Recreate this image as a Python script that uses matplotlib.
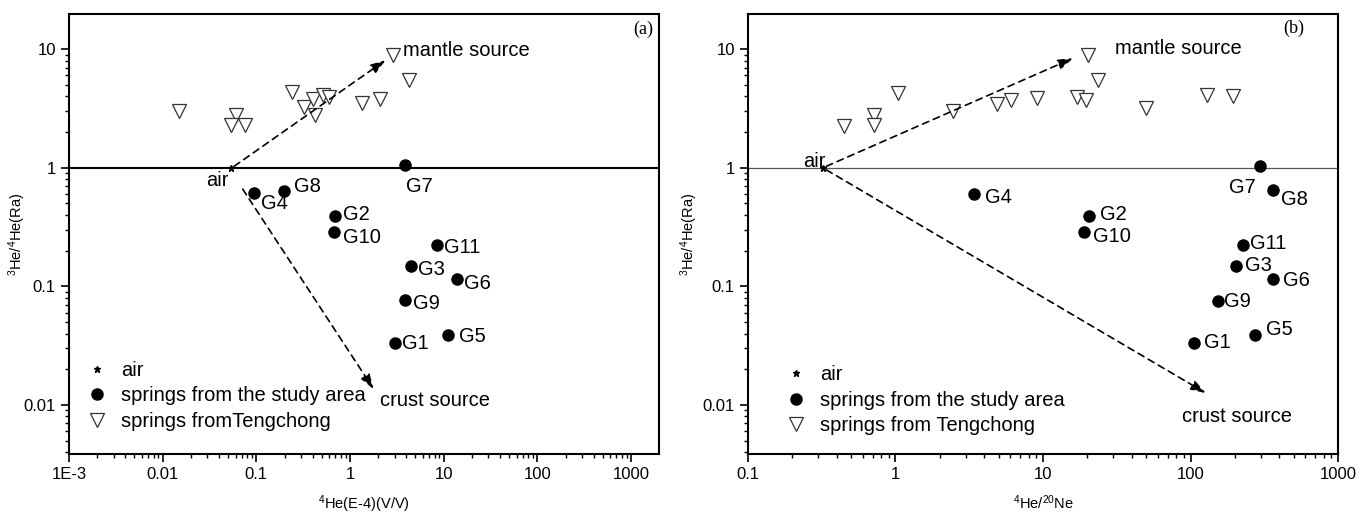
import numpy as np
import matplotlib
matplotlib.use('agg')
import matplotlib.pyplot as plt
from matplotlib.ticker import FixedLocator, FixedFormatter, LogLocator, NullFormatter

plt.rcParams['font.family'] = ['Liberation Sans', 'DejaVu Sans']
plt.rcParams['mathtext.fontset'] = 'custom'
plt.rcParams['mathtext.rm'] = 'Liberation Sans'
plt.rcParams['mathtext.default'] = 'regular'

######## panel (a): 4He vs 3He/4He
tc_x_a = [0.015, 0.060, 0.054, 0.076, 0.24, 0.32, 0.40, 0.42, 0.52, 0.59, 1.34, 2.08, 2.86, 4.3]
tc_y_a = [3.03, 2.8, 2.31, 2.28, 4.36, 3.24, 3.83, 2.8, 4.08, 3.97, 3.49, 3.80, 8.97, 5.52]

g_names = ['G1', 'G2', 'G3', 'G4', 'G5', 'G6', 'G7', 'G8', 'G9', 'G10', 'G11']
g_x_a = [3.0, 0.70, 4.52, 0.094, 11.1, 13.8, 3.84, 0.196, 3.91, 0.68, 8.4]
g_y_a = [0.0332, 0.395, 0.149, 0.61, 0.039, 0.115, 1.05, 0.638, 0.077, 0.286, 0.224]
g_off_a = [(21, 0), (21, 1), (20, -4), (21, -10), (24, -2), (21, -4), (15, -21),
           (24, 4), (21, -4), (28, -5), (26, -3)]
air_a = (0.053, 1.0)

######## panel (b): 4He/20Ne vs 3He/4He
tc_x_b = [0.446, 0.713, 0.713, 1.04, 2.46, 4.89, 6.07, 9.06, 17.0, 19.6, 20.2, 23.6, 50.1, 130, 195]
tc_y_b = [2.27, 2.79, 2.30, 4.27, 3.03, 3.45, 3.75, 3.85, 3.95, 3.75, 8.97, 5.52, 3.19, 4.08, 4.0]

g_x_b = [106, 20.5, 203, 3.42, 274, 361, 297, 361, 154, 19.0, 228]
g_y_b = [0.0332, 0.395, 0.149, 0.60, 0.039, 0.115, 1.03, 0.65, 0.076, 0.286, 0.224]
g_off_b = [(23, 1), (24, 1), (23, 0), (24, -3), (24, 5), (24, -1), (-18, -21),
           (22, -10), (19, -1), (28, -4), (25, 1)]
air_b = (0.32, 1.0)

fig = plt.figure(figsize=(13.7, 5.16), dpi=100)
ax1 = fig.add_axes([69/1370, 62/516, 590/1370, 440/516])
ax2 = fig.add_axes([748/1370, 62/516, 590/1370, 440/516])

tri = dict(marker='v', ms=9.5, mfc='white', mec='#333333', mew=0.9, ls='none')
dot = dict(marker='o', ms=8, color='black', ls='none')
star = dict(marker='*', ms=4.5, color='black', ls='none')


def arrow(ax, start, end):
    ax.annotate('', xy=end, xytext=start,
                arrowprops=dict(arrowstyle='-|>,head_length=0.9,head_width=0.3',
                                linestyle=(0, (4, 3)), lw=1.2, color='black',
                                shrinkA=0, shrinkB=0))


def panel(ax, tx, ty, gx, gy, offs, air, hlw, hcol):
    ax.set_xscale('log')
    ax.set_yscale('log')
    ax.axhline(1.0, color=hcol, lw=hlw, zorder=1)
    ax.plot(tx, ty, label='springs from Tengchong', **tri)
    ax.plot(gx, gy, label='springs from the study area', **dot)
    ax.plot([air[0]], [air[1]], label='air', **star)
    for n, x, y, o in zip(g_names, gx, gy, offs):
        ax.annotate(n, (x, y), xytext=o, textcoords='offset pixels',
                    ha='center', va='center', fontsize=14.5)
    ax.set_ylim(0.00386, 19.8)
    ax.yaxis.set_major_locator(FixedLocator([0.01, 0.1, 1, 10]))
    ax.yaxis.set_major_formatter(FixedFormatter(['0.01', '0.1', '1', '10']))
    ax.yaxis.set_minor_locator(LogLocator(base=10, subs=np.arange(2, 10)))
    ax.yaxis.set_minor_formatter(NullFormatter())
    ax.xaxis.set_minor_locator(LogLocator(base=10, subs=np.arange(2, 10)))
    ax.xaxis.set_minor_formatter(NullFormatter())
    ax.tick_params(which='major', direction='out', length=6, width=1.2, labelsize=12)
    ax.tick_params(which='minor', direction='out', length=3, width=1.0)
    for s in ax.spines.values():
        s.set_linewidth(1.5)
    ax.set_ylabel('$^3$He/$^4$He(Ra)', fontsize=10.5)
    h, l = ax.get_legend_handles_labels()
    return h, l


h, l = panel(ax1, tc_x_a, tc_y_a, g_x_a, g_y_a, g_off_a, air_a, 1.5, 'black')
ax1.yaxis.set_label_coords(-0.0695, 0.5)
ax1.set_xlim(1e-3, 1990)
ax1.xaxis.set_major_locator(FixedLocator([1e-3, 0.01, 0.1, 1, 10, 100, 1000]))
ax1.xaxis.set_major_formatter(FixedFormatter(['1E-3', '0.01', '0.1', '1', '10', '100', '1000']))
ax1.set_xlabel('$^4$He(E-4)(V/V)', fontsize=10.5, labelpad=8)
arrow(ax1, (0.058, 1.03), (2.4, 8.1))
arrow(ax1, (0.0716, 0.66), (1.79, 0.0136))
ax1.text(0.05, 0.78, 'air', ha='right', va='center', fontsize=14.5)
ax1.text(3.7, 9.7, 'mantle source', ha='left', va='center', fontsize=14.5)
ax1.text(2.08, 0.011, 'crust source', ha='left', va='center', fontsize=14.5)
ax1.text(0.973, 0.966, '(a)', transform=ax1.transAxes, ha='center', va='center',
         fontsize=13, family='Liberation Serif')
ax1.legend([h[2], h[1], h[0]], ['air', 'springs from the study area', 'springs fromTengchong'],
           loc='upper left', bbox_to_anchor=(0.01, 0.235), frameon=False,
           fontsize=14.5, borderpad=0, handletextpad=0.6, labelspacing=0.33,
           handlelength=1.2)

h, l = panel(ax2, tc_x_b, tc_y_b, g_x_b, g_y_b, g_off_b, air_b, 0.9, '#555555')
ax2.yaxis.set_label_coords(-0.081, 0.5)
ax2.set_xlim(0.1, 1000)
ax2.xaxis.set_major_locator(FixedLocator([0.1, 1, 10, 100, 1000]))
ax2.xaxis.set_major_formatter(FixedFormatter(['0.1', '1', '10', '100', '1000']))
ax2.set_xlabel('$^4$He/$^{20}$Ne', fontsize=10.5, labelpad=8)
arrow(ax2, (0.34, 1.03), (16.0, 8.4))
arrow(ax2, (0.34, 0.96), (127, 0.0126))
ax2.text(0.335, 1.14, 'air', ha='right', va='center', fontsize=14.5)
ax2.text(30.6, 10.2, 'mantle source', ha='left', va='center', fontsize=14.5)
ax2.text(87, 0.008, 'crust source', ha='left', va='center', fontsize=14.5)
ax2.text(0.925, 0.967, '(b)', transform=ax2.transAxes, ha='center', va='center',
         fontsize=13, family='Liberation Serif')
ax2.legend([h[2], h[1], h[0]], ['air', 'springs from the study area', 'springs from Tengchong'],
           loc='upper left', bbox_to_anchor=(0.043, 0.225), frameon=False,
           fontsize=14.5, borderpad=0, handletextpad=0.6, labelspacing=0.33,
           handlelength=1.2)

fig.savefig('out.png', dpi=100)
